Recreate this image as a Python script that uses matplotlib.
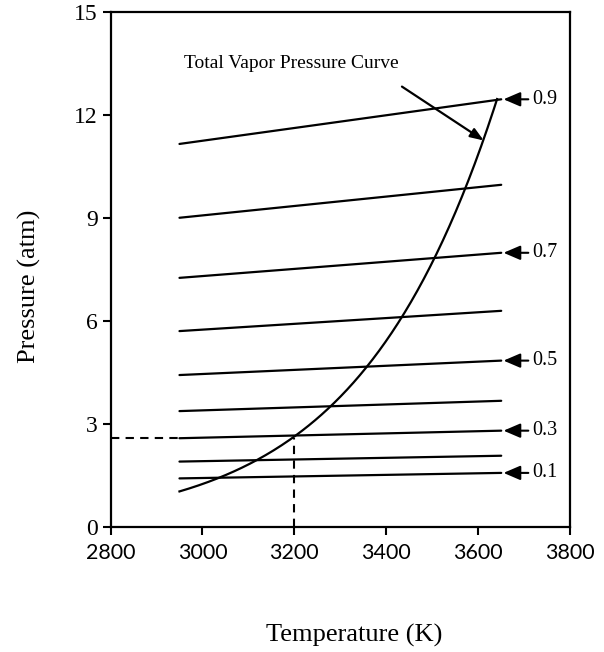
import matplotlib
matplotlib.use("Agg")
import matplotlib.pyplot as plt
import numpy as np

# Data
line_T = [2950, 3650]
line_start_P = [11.15, 9.0, 7.25, 5.7, 4.42, 3.37, 2.58, 1.9, 1.41]
line_end_P = [12.45, 9.96, 7.98, 6.29, 4.84, 3.67, 2.8, 2.07, 1.57]

curve_T = [2950, 3030, 3117, 3200, 3283, 3350, 3427, 3508, 3573, 3641]
curve_P = [1.02, 1.42, 1.95, 2.6, 3.5, 4.55, 6.09, 7.86, 9.9, 12.44]

label_texts = ["0.9", "0.7", "0.5", "0.3", "0.1"]
label_P = [12.45, 7.98, 4.84, 2.8, 1.57]

guide_T = 3200
guide_P = 2.58

xticks = [2800, 3000, 3200, 3400, 3600, 3800]
yticks = [0, 3, 6, 9, 12, 15]

serif = "Liberation Serif"

fig = plt.figure(figsize=(6.04, 6.52), dpi=100)
ax = fig.add_axes([0.183, 0.192, 0.944 - 0.183, 0.982 - 0.192])

for ps, pe in zip(line_start_P, line_end_P):
    ax.plot(line_T, [ps, pe], color="black", lw=1.6, solid_capstyle="round")

# smooth curve through read points
ct = np.array(curve_T, float)
cp = np.array(curve_P, float)
coef = np.polyfit(ct, np.log(cp), 3)
tt = np.linspace(ct[0], ct[-1], 200)
ax.plot(tt, np.exp(np.polyval(coef, tt)), color="black", lw=1.6)

# dashed guides
ax.plot([2800, line_T[0]], [guide_P, guide_P], color="black", lw=1.5, ls=(0, (4, 3)))
ax.plot([guide_T, guide_T], [0, guide_P], color="black", lw=1.5, ls=(0, (4, 3)))

for txt, p in zip(label_texts, label_P):
    ax.annotate(txt, xy=(3655, p), xytext=(3718, p), ha="left", va="center",
                fontsize=14.5, family=serif,
                arrowprops=dict(arrowstyle="-|>,head_length=0.7,head_width=0.3",
                                color="black", lw=1.5, shrinkA=1, shrinkB=0))

ax.text(2960, 13.5, "Total Vapor Pressure Curve", fontsize=14, family=serif,
        ha="left", va="center")
ax.annotate("", xy=(3612, 11.25), xytext=(3434, 12.82),
            arrowprops=dict(arrowstyle="-|>,head_length=0.8,head_width=0.3",
                            color="black", lw=1.6, shrinkA=0, shrinkB=0))

ax.set_xlim(2800, 3800)
ax.set_ylim(0, 15)
ax.set_xticks(xticks)
ax.set_yticks(yticks)
ax.set_xticklabels([str(v) for v in xticks], fontsize=15.5, family="Lato")
ax.set_yticklabels([str(v) for v in yticks], fontsize=17, family=serif)
ax.tick_params(direction="out", length=6, width=1.5)
ax.tick_params(axis="x", pad=6)
ax.tick_params(axis="y", pad=3)
for s in ax.spines.values():
    s.set_linewidth(1.6)

ax.set_xlabel("Temperature (K)", fontsize=19, family=serif, va="center")
ax.xaxis.set_label_coords(0.53, -0.21)
ax.set_ylabel("Pressure (atm)", fontsize=19, family=serif, va="center")
ax.yaxis.set_label_coords(-0.176, 0.466)

fig.savefig("out.png", dpi=100)
